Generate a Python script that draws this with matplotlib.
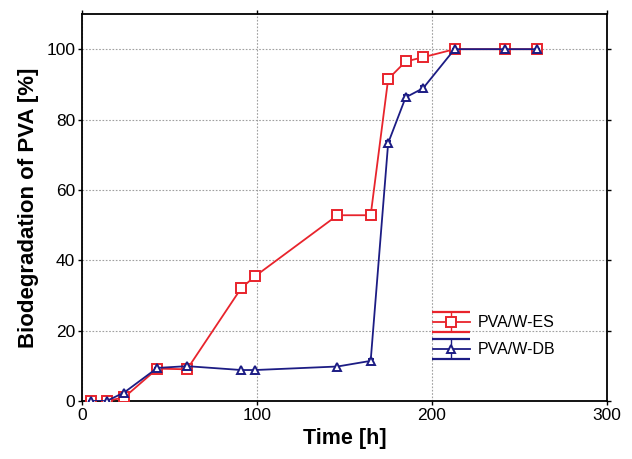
import numpy as np
import matplotlib
matplotlib.use("Agg")
import matplotlib.pyplot as plt
from matplotlib.legend_handler import HandlerErrorbar
from matplotlib.lines import Line2D

plt.rcParams['font.family'] = ['Liberation Sans', 'DejaVu Sans']

# time points [h]
time_h = [5, 14, 24, 43, 60, 91, 99, 146, 165, 175, 185, 195, 213, 242, 260]

# PVA/W-ES (red squares)
es_vals = [0, 0, 1.0, 9.2, 9.0, 32.1, 35.5, 52.8, 52.8, 91.5, 96.5, 97.7, 100, 100, 100]
es_err = [0, 0, 0, 0, 0, 0.6, 0, 0, 0, 0, 0, 0, 0, 0, 0]

# PVA/W-DB (blue triangles)
db_vals = [0, 0, 2.4, 9.4, 9.9, 8.8, 8.8, 9.8, 11.4, 73.3, 86.3, 88.9, 100, 100, 100]
db_err = [0, 0, 0, 0, 0, 0, 0, 0, 0.6, 0.6, 0.6, 0.6, 0, 0, 0]

red = '#e8242c'
blue = '#1c1c84'


class CapHandler(HandlerErrorbar):
    # long caps in the legend, like the original
    def create_artists(self, *args, **kw):
        artists = super().create_artists(*args, **kw)
        for a in artists:
            if isinstance(a, Line2D) and a.get_marker() == '_':
                a.set_markersize(27)
                a.set_markeredgewidth(1.6)
        return artists


fig = plt.figure(figsize=(6.32, 4.59), dpi=100)
ax = fig.add_axes([0.130, 0.1264, 0.830, 0.8431])

es = ax.errorbar(time_h, es_vals, yerr=es_err, color=red, lw=1.3,
                 marker='s', ms=7.5, mfc='white', mec=red, mew=1.4,
                 capsize=2, elinewidth=1.0, label='PVA/W-ES', zorder=3)
db = ax.errorbar(time_h, db_vals, yerr=db_err, color=blue, lw=1.3,
                 marker='^', ms=6, mfc='white', mec=blue, mew=1.4,
                 capsize=2, elinewidth=1.0, label='PVA/W-DB', zorder=4)

ax.set_xlim(0, 300)
ax.set_ylim(0, 110)
ax.set_xticks([0, 100, 200, 300])
ax.set_yticks([0, 20, 40, 60, 80, 100])
ax.grid(True, color='#a0a0a0', linestyle=(0, (1.5, 1.5)), lw=0.8)
ax.set_axisbelow(True)

ax.tick_params(direction='out', length=3, width=1, labelsize=12.5,
               top=True, right=True, pad=2)
for s in ax.spines.values():
    s.set_linewidth(1.3)

ax.set_xlabel('Time [h]', fontsize=15.5, fontweight='bold', labelpad=4)
ax.set_ylabel('Biodegradation of PVA [%]', fontsize=16, fontweight='bold', labelpad=5)

leg = ax.legend(handles=[es, db], loc='center left', bbox_to_anchor=(0.669, 0.167),
                frameon=False, fontsize=11.5, borderpad=0, borderaxespad=0,
                handlelength=2.3, handletextpad=0.5, labelspacing=0.75,
                handler_map={type(es): CapHandler(xerr_size=0.5, yerr_size=0.62)})

fig.savefig('out.png', dpi=100)
